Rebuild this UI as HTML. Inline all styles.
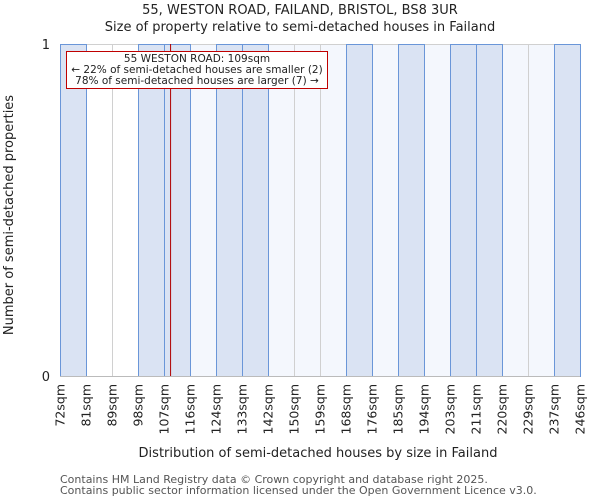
<!DOCTYPE html>
<html><head><meta charset="utf-8"><style>
body{margin:0;background:#fff;font-family:"DejaVu Sans","Liberation Sans",sans-serif;}
svg text{font-family:"DejaVu Sans","Liberation Sans",sans-serif;fill:#222;}
</style></head><body>
<svg id="chart" width="600" height="500" xmlns="http://www.w3.org/2000/svg">
<text x="300" y="14" font-size="13" text-anchor="middle">55, WESTON ROAD, FAILAND, BRISTOL, BS8 3UR</text>
<text x="300" y="31" font-size="13" text-anchor="middle">Size of property relative to semi-detached houses in Failand</text>
<g id="plot"></g>
<text x="318" y="457" font-size="13" text-anchor="middle">Distribution of semi-detached houses by size in Failand</text>
<text transform="translate(13,215) rotate(-90)" font-size="13" text-anchor="middle">Number of semi-detached properties</text>
<text x="60" y="483" font-size="11" style="fill:#555">Contains HM Land Registry data © Crown copyright and database right 2025.</text>
<text x="60" y="494" font-size="11" style="fill:#555">Contains public sector information licensed under the Open Government Licence v3.0.</text>
</svg>
<script>
const labels=["72sqm","81sqm","89sqm","98sqm","107sqm","116sqm","124sqm","133sqm","142sqm","150sqm","159sqm","168sqm","176sqm","185sqm","194sqm","203sqm","211sqm","220sqm","229sqm","237sqm","246sqm"];
const counts=[1,0,0,1,1,0,1,1,0,0,0,1,0,1,0,1,1,0,0,1];
const yTicks=[0,1];
const binStart=72, binWidthSqm=8.7, subject=109;
const NS="http://www.w3.org/2000/svg";
const L=60,R=580,T=44,B=376;
const nb=counts.length, bw=(R-L)/nb;
const xBin=i=>Math.round(L+i*bw)+0.5;
const xVal=v=>L+(v-binStart)/binWidthSqm*bw;
const y=v=>B-(B-T)*v/1;
const g=document.getElementById('plot');
function mk(t,a){const e=document.createElementNS(NS,t);for(const k in a)e.setAttribute(k,a[k]);return e;}
for(let i=0;i<nb;i++){
  const bg=mk('rect',{x:xBin(i),y:T+0.5,width:xBin(i+1)-xBin(i),height:B-T,fill:(i==1||i==2)?'#ffffff':'#f4f7fd',stroke:'#d0d0d0','stroke-width':1});
  
  
  g.appendChild(bg);
}
counts.forEach((c,i)=>{
  if(c<=0)return;
  const r=mk('rect',{x:xBin(i),y:y(c)+0.5,width:xBin(i+1)-xBin(i),height:B-y(c),fill:'#dae3f3',stroke:'#6a96d8','stroke-width':1});
  
  
  g.appendChild(r);
});
g.appendChild(mk('line',{x1:L,y1:B+0.5,x2:R,y2:B+0.5,stroke:'#bbb'}));
yTicks.forEach(v=>{
  const t=mk('text',{x:L-10,y:y(v)+5,'font-size':13,'text-anchor':'end'});
  t.textContent=v;
  
  
  g.appendChild(t);
});
labels.forEach((s,i)=>{
  const x=L+i*bw;
  const t=mk('text',{transform:`translate(${x+4.5},${B+8}) rotate(-90)`,'font-size':12.5,'text-anchor':'end'});
  t.textContent=s;
  
  
  g.appendChild(t);
});
const ln=mk('line',{x1:xVal(subject),y1:T,x2:xVal(subject),y2:B,stroke:'#b00000','stroke-width':1});


g.appendChild(ln);
const box=mk('rect',{x:66.5,y:51.5,width:261,height:37,fill:'#fff',stroke:'#c00000','stroke-width':1});


g.appendChild(box);
["55 WESTON ROAD: 109sqm","← 22% of semi-detached houses are smaller (2)","78% of semi-detached houses are larger (7) →"].forEach((s,i)=>{
  const t=mk('text',{x:197,y:62+i*11,'font-size':10.5,'text-anchor':'middle'});
  t.textContent=s;
  
  
  g.appendChild(t);
});
</script>
</body></html>
